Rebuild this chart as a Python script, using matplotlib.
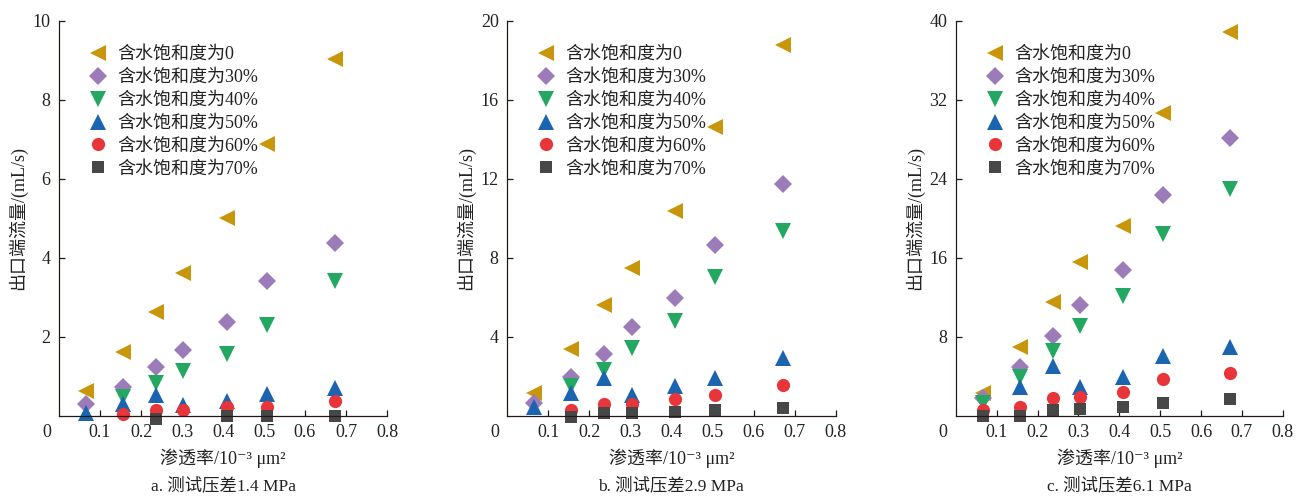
import numpy as np
import matplotlib
matplotlib.use("Agg")
import matplotlib.pyplot as plt

plt.rcParams['font.family'] = ['Liberation Serif', 'Noto Sans CJK SC', 'DejaVu Sans']
plt.rcParams['axes.unicode_minus'] = False

nan = np.nan

# permeability (10^-3 um^2)
perm = [0.066, 0.156, 0.237, 0.303, 0.41, 0.507, 0.672]

labels = ["含水饱和度为0", "含水饱和度为30%", "含水饱和度为40%",
          "含水饱和度为50%", "含水饱和度为60%", "含水饱和度为70%"]

# a. 1.4 MPa
q_a_0 = [0.63, 1.62, 2.63, 3.61, 5.00, 6.88, 9.03]
q_a_30 = [0.31, 0.74, 1.23, 1.66, 2.37, 3.41, 4.39]
q_a_40 = [nan, 0.49, 0.84, 1.14, 1.58, 2.30, 3.43]
q_a_50 = [0.08, 0.31, 0.52, 0.27, 0.38, 0.56, 0.72]
q_a_60 = [nan, 0.06, 0.15, 0.14, 0.24, 0.24, 0.37]
q_a_70 = [nan, nan, -0.07, nan, 0.0, 0.0, 0.0]

# b. 2.9 MPa
q_b_0 = [1.18, 3.38, 5.60, 7.50, 10.40, 14.65, 18.80]
q_b_30 = [0.64, 1.99, 3.14, 4.49, 5.96, 8.66, 11.75]
q_b_40 = [nan, 1.52, 2.33, 3.46, 4.81, 7.06, 9.37]
q_b_50 = [0.44, 1.15, 1.94, 1.06, 1.52, 1.94, 2.92]
q_b_60 = [nan, 0.30, 0.59, 0.59, 0.84, 1.05, 1.55]
q_b_70 = [nan, -0.07, 0.13, 0.17, 0.22, 0.30, 0.42]

# c. 6.1 MPa
q_c_0 = [2.36, 6.95, 11.55, 15.6, 19.25, 30.7, 38.9]
q_c_30 = [1.79, 4.97, 8.10, 11.2, 14.8, 22.4, 28.1]
q_c_40 = [1.28, 3.99, 6.62, 9.12, 12.16, 18.4, 23.0]
q_c_50 = [nan, 2.97, 5.10, 2.97, 3.99, 6.07, 7.00]
q_c_60 = [0.60, 0.88, 1.80, 1.90, 2.47, 3.75, 4.39]
q_c_70 = [0.0, -0.05, 0.57, 0.71, 0.91, 1.35, 1.69]

captions = ["a. 测试压差1.4 MPa", "b. 测试压差2.9 MPa", "c. 测试压差6.1 MPa"]
ymax = [10, 20, 40]
ystep = [2, 4, 8]
datos = [
    [q_a_0, q_a_30, q_a_40, q_a_50, q_a_60, q_a_70],
    [q_b_0, q_b_30, q_b_40, q_b_50, q_b_60, q_b_70],
    [q_c_0, q_c_30, q_c_40, q_c_50, q_c_60, q_c_70],
]

markers = ['<', 'D', 'v', '^', 'o', 's']
sizes = [11, 9, 11, 11, 9.5, 8.5]
colors = ['#C8960A', '#9C7BB9', '#23A862', '#1B64B0', '#E83539', '#474747']
axcol = '#231815'
txtcol = '#222222'

fig = plt.figure(figsize=(13.03, 4.96), dpi=100)
lefts = [0.0453, 0.3891, 0.7335]
widths = [0.2517, 0.2523, 0.2510]

for k in range(3):
    ax = fig.add_axes([lefts[k], 0.1613, widths[k], 0.7964])
    for j in range(6):
        ax.plot(perm, datos[k][j], linestyle='none', marker=markers[j], markersize=sizes[j],
                color=colors[j], markeredgewidth=0, label=labels[j], clip_on=False)
    ax.set_xlim(0, 0.8)
    ax.set_ylim(0, ymax[k])
    ax.set_xticks(np.arange(1, 9) / 10)
    ax.set_xticklabels([f"{v / 10:.1f}" for v in range(1, 9)])
    yt = np.arange(ystep[k], ymax[k] + 1, ystep[k])
    ax.set_yticks(yt)
    ax.set_yticklabels([str(v) for v in yt])
    ax.tick_params(direction='in', length=4, width=0.9, color=axcol, labelsize=13,
                   labelcolor=txtcol)
    ax.tick_params(axis='x', pad=6)
    ax.tick_params(axis='y', pad=6)
    for s in ['top', 'right']:
        ax.spines[s].set_visible(False)
    for s in ['left', 'bottom']:
        ax.spines[s].set_color(axcol)
        ax.spines[s].set_linewidth(0.9)
    ax.annotate("0", xy=(0, 0), xycoords='axes fraction', xytext=(-9, -12),
                textcoords='offset points', ha='center', va='center', fontsize=13,
                color=txtcol)
    ax.set_ylabel("出口端流量/(mL/s)", fontsize=13, labelpad=4, color=txtcol)
    ax.set_xlabel("渗透率/10⁻³ μm²", fontsize=13, labelpad=5, color=txtcol)
    ax.text(0.5, -0.178, captions[k], transform=ax.transAxes, ha='center', va='center',
            fontsize=12.5, color=txtcol)
    ax.legend(loc='upper left', bbox_to_anchor=(0.065, 0.955), frameon=False, fontsize=13,
              handletextpad=0.45, labelspacing=0.33, borderaxespad=0, handlelength=1.2,
              labelcolor=txtcol)

plt.savefig("out.png", dpi=100)
